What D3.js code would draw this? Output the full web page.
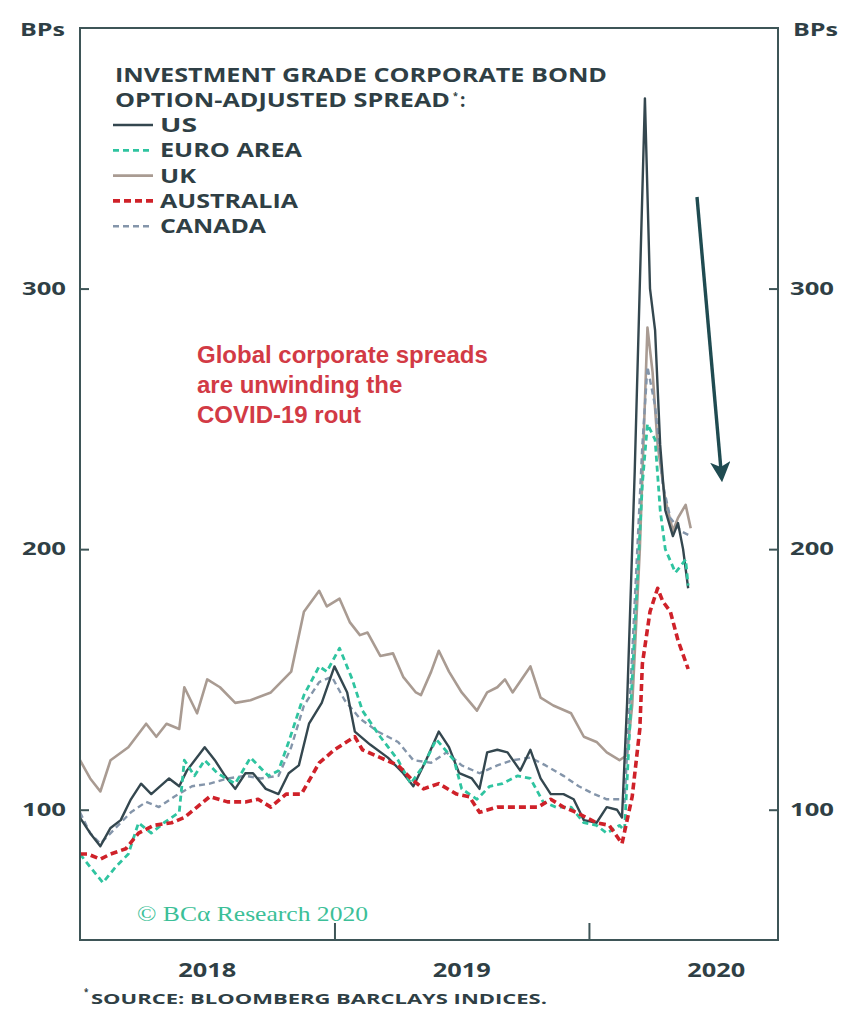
<!DOCTYPE html>
<html lang="en">
  <head>
    <meta charset="utf-8">
    <title>IG corporate bond spreads</title>
    <script src="https://d3js.org/d3.v7.min.js"></script>
    <style>
      body { margin: 0; background: #fff; }
      svg { display: block; }
    </style>
  </head>
  <body>
    <div class="chart"></div>
    <script type="text/javascript">
      // values, time in decimal years
      const ukT = [2018.00,2018.04,2018.08,2018.12,2018.19,2018.26,2018.30,2018.34,2018.39,2018.41,2018.46,2018.50,2018.55,2018.61,2018.67,2018.75,2018.83,2018.88,2018.94,2018.97,2019.02,2019.06,2019.10,2019.13,2019.18,2019.23,2019.27,2019.32,2019.34,2019.38,2019.41,2019.45,2019.50,2019.56,2019.60,2019.64,2019.67,2019.70,2019.77,2019.81,2019.86,2019.93,2019.98,2020.03,2020.07,2020.12,2020.15,2020.17,2020.20,2020.23,2020.25,2020.27,2020.30,2020.33,2020.35,2020.38,2020.40];
      const ukV = [119,112,107,119,124,133,128,133,131,147,137,150,147,141,142,145,153,176,184,178,181,172,167,168,159,160,151,145,144,153,161,153,145,138,145,147,150,145,155,143,140,137,128,126,122,119,121,140,200,285,268,240,219,207,212,217,208];

      const usT = [2018.00,2018.04,2018.08,2018.12,2018.16,2018.20,2018.24,2018.28,2018.35,2018.39,2018.42,2018.49,2018.53,2018.57,2018.61,2018.65,2018.68,2018.73,2018.78,2018.82,2018.86,2018.90,2018.95,2019.00,2019.05,2019.08,2019.14,2019.21,2019.27,2019.31,2019.36,2019.41,2019.45,2019.49,2019.54,2019.57,2019.60,2019.64,2019.68,2019.73,2019.77,2019.81,2019.85,2019.90,2019.94,2019.98,2020.03,2020.07,2020.11,2020.13,2020.15,2020.18,2020.22,2020.24,2020.26,2020.28,2020.30,2020.33,2020.35,2020.37,2020.39];
      const usV = [97,91,86,93,96,104,110,106,112,109,115,124,119,113,108,114,114,108,106,114,117,133,141,155,145,130,125,120,114,109,119,130,124,114,112,108,122,123,122,115,123,112,106,106,104,96,95,101,100,97,141,230,373,300,284,240,215,205,210,200,185];

      const euroT = [2018.00,2018.04,2018.09,2018.14,2018.19,2018.23,2018.28,2018.33,2018.39,2018.41,2018.45,2018.49,2018.54,2018.61,2018.67,2018.74,2018.78,2018.82,2018.88,2018.94,2018.97,2019.02,2019.07,2019.11,2019.18,2019.25,2019.30,2019.35,2019.40,2019.47,2019.50,2019.56,2019.61,2019.66,2019.72,2019.77,2019.82,2019.87,2019.93,2019.98,2020.03,2020.07,2020.12,2020.14,2020.17,2020.21,2020.23,2020.26,2020.28,2020.30,2020.34,2020.38,2020.39];
      const euroV = [83,78,72,78,83,95,91,95,99,119,113,119,114,110,120,113,115,126,144,155,153,162,150,138,128,119,110,117,127,119,108,104,109,110,113,112,103,101,101,95,94,91,94,92,150,225,248,242,215,200,191,196,186];

      const ausT = [2018.00,2018.03,2018.08,2018.12,2018.18,2018.23,2018.29,2018.36,2018.41,2018.46,2018.51,2018.58,2018.65,2018.70,2018.75,2018.81,2018.87,2018.94,2019.00,2019.08,2019.11,2019.18,2019.25,2019.30,2019.35,2019.41,2019.48,2019.53,2019.57,2019.64,2019.72,2019.80,2019.85,2019.90,2019.95,2020.03,2020.08,2020.13,2020.17,2020.20,2020.21,2020.24,2020.27,2020.29,2020.32,2020.35,2020.39];
      const ausV = [83,83,81,83,85,91,94,95,97,101,105,103,103,104,101,106,106,118,123,128,123,120,117,112,108,110,106,105,99,101,101,101,104,101,99,95,94,87,105,131,156,176,185,180,176,165,154];

      const canT = [2018.00,2018.04,2018.08,2018.14,2018.20,2018.26,2018.31,2018.37,2018.44,2018.51,2018.58,2018.65,2018.71,2018.78,2018.83,2018.88,2018.94,2018.99,2019.04,2019.10,2019.17,2019.25,2019.31,2019.38,2019.44,2019.50,2019.57,2019.64,2019.70,2019.77,2019.83,2019.90,2019.96,2020.02,2020.07,2020.12,2020.14,2020.17,2020.21,2020.23,2020.26,2020.29,2020.32,2020.36,2020.40];
      const canV = [99,91,87,93,99,103,101,105,109,110,112,113,112,113,124,140,149,151,142,135,130,126,119,118,122,117,114,117,119,120,117,113,109,106,104,104,103,160,240,270,255,225,212,207,205];

      const yTicks = [100, 200, 300];
      const yearTicks = [2019, 2020];
      const yearLabels = [2018, 2019, 2020];
      const legendTitle = ["INVESTMENT GRADE CORPORATE BOND", "OPTION-ADJUSTED SPREAD"];
      const notes = ["Global corporate spreads", "are unwinding the", "COVID-19 rout"];

      const width = 846, height = 1024;
      const margin = {top: 28, right: 68, bottom: 84, left: 80};
      const ink = "#2f3f45";
      const font = "'Open Sans', 'DejaVu Sans', sans-serif";

      const svg = d3.select(".chart").append("svg")
          .attr("width", width)
          .attr("height", height);

      const xScale = d3.scaleLinear()
          .domain([2018, 2020.743])
          .range([margin.left, width - margin.right]);

      const yScale = d3.scaleLinear()
          .domain([50, 400])
          .range([height - margin.bottom, margin.top]);

      const series = [
        {name: "UK", t: ukT, v: ukV, color: "#a99b92", w: 2.6, dash: null, len: 36},
        {name: "CANADA", t: canT, v: canV, color: "#8495aa", w: 2.4, dash: "6,4", len: 106},
        {name: "US", t: usT, v: usV, color: "#34474f", w: 2.4, dash: null, len: 37},
        {name: "EURO AREA", t: euroT, v: euroV, color: "#2fc4a0", w: 2.8, dash: "6,4", len: 142},
        {name: "AUSTRALIA", t: ausT, v: ausV, color: "#cf2129", w: 3.6, dash: "7,4", len: 138}
      ];

      const line = d3.line()
          .x(d => xScale(d[0]))
          .y(d => yScale(d[1]));

      svg.append("g")
        .selectAll("path")
        .data(series)
        .enter()
        .append("path")
          .attr("fill", "none")
          .attr("stroke", d => d.color)
          .attr("stroke-width", d => d.w)
          .attr("stroke-dasharray", d => d.dash)
          .attr("stroke-linejoin", "round")
          .attr("d", d => line(d.t.map((t, i) => [t, d.v[i]])));

      // frame
      svg.append("rect")
          .attr("x", margin.left)
          .attr("y", margin.top)
          .attr("width", width - margin.left - margin.right)
          .attr("height", height - margin.top - margin.bottom)
          .attr("fill", "none")
          .attr("stroke", "#3e5557")
          .attr("stroke-width", 2);

      // y axes, ticks inward
      const yLeft = d3.axisRight(yScale).tickValues(yTicks).tickSize(9).tickFormat(d3.format("d"));
      const yRight = d3.axisLeft(yScale).tickValues(yTicks).tickSize(9).tickFormat(d3.format("d"));

      const gl = svg.append("g")
          .attr("transform", `translate(${margin.left},0)`)
          .call(yLeft);
      gl.selectAll("text").attr("x", -14).attr("text-anchor", "end");

      const gr = svg.append("g")
          .attr("transform", `translate(${width - margin.right},0)`)
          .call(yRight);
      gr.selectAll("text").attr("x", 12).attr("text-anchor", "start");

      const xAxis = d3.axisTop(xScale).tickValues(yearTicks).tickSize(17).tickFormat("");
      svg.append("g")
          .attr("transform", `translate(0,${height - margin.bottom})`)
          .call(xAxis);

      svg.selectAll(".domain").remove();
      svg.selectAll(".tick line").attr("stroke", "#3e5557").attr("stroke-width", 2);
      svg.selectAll(".tick text")
          .style("font-family", font)
          .style("font-size", "18px")
          .style("font-weight", 700)
          .attr("textLength", 44)
          .attr("lengthAdjust", "spacingAndGlyphs")
          .attr("fill", ink);

      svg.selectAll(".year")
        .data(yearLabels)
        .enter()
        .append("text")
          .attr("class", "year")
          .attr("x", d => xScale(d + 0.5) - 29)
          .attr("y", 977)
          .attr("textLength", 58)
          .attr("lengthAdjust", "spacingAndGlyphs")
          .style("font-family", font)
          .style("font-size", "19px")
          .style("font-weight", 700)
          .attr("fill", ink)
          .text(d => d);

      // BPs labels
      [20, 793].forEach(x => {
        svg.append("text")
            .attr("x", x)
            .attr("y", 36)
            .attr("textLength", 45)
            .attr("lengthAdjust", "spacingAndGlyphs")
            .style("font-family", font)
            .style("font-size", "18px")
            .style("font-weight", 700)
            .attr("fill", ink)
            .text("BPs");
      });

      // legend
      svg.append("text")
          .attr("x", 115).attr("y", 82)
          .attr("textLength", 492).attr("lengthAdjust", "spacingAndGlyphs")
          .style("font-family", font).style("font-size", "19px").style("font-weight", 700)
          .attr("fill", ink)
          .text(legendTitle[0]);

      svg.append("text")
          .attr("x", 115).attr("y", 107)
          .attr("textLength", 335).attr("lengthAdjust", "spacingAndGlyphs")
          .style("font-family", font).style("font-size", "19px").style("font-weight", 700)
          .attr("fill", ink)
          .text(legendTitle[1]);
      svg.append("text")
          .attr("x", 453).attr("y", 99)
          .style("font-family", font).style("font-size", "9px").style("font-weight", 700)
          .attr("fill", ink)
          .text("*");
      svg.append("text")
          .attr("x", 460).attr("y", 107)
          .style("font-family", font).style("font-size", "19px").style("font-weight", 700)
          .attr("fill", ink)
          .text(":");

      const legendOrder = ["US", "EURO AREA", "UK", "AUSTRALIA", "CANADA"];
      const legendItems = legendOrder.map(n => series.find(s => s.name === n));
      const lg = svg.append("g");
      lg.selectAll("line")
        .data(legendItems)
        .enter()
        .append("line")
          .attr("x1", 113).attr("x2", 153)
          .attr("y1", (d, i) => 125 + i * 25.3)
          .attr("y2", (d, i) => 125 + i * 25.3)
          .attr("stroke", d => d.color)
          .attr("stroke-width", d => d.w)
          .attr("stroke-dasharray", d => d.dash);
      lg.selectAll("text")
        .data(legendItems)
        .enter()
        .append("text")
          .attr("x", 160)
          .attr("y", (d, i) => 132 + i * 25.3)
          .attr("textLength", d => d.len)
          .attr("lengthAdjust", "spacingAndGlyphs")
          .style("font-family", font).style("font-size", "19px").style("font-weight", 700)
          .attr("fill", ink)
          .text(d => d.name);

      // annotation
      svg.selectAll(".note")
        .data(notes)
        .enter()
        .append("text")
          .attr("class", "note")
          .attr("x", 197)
          .attr("y", (d, i) => 363 + i * 30)
          .style("font-family", "'Liberation Sans', Arial, sans-serif")
          .style("font-size", "24px")
          .style("font-weight", 700)
          .attr("fill", "#d23a45")
          .text(d => d);

      // arrow
      svg.append("defs").append("marker")
          .attr("id", "head")
          .attr("viewBox", "0 0 10 10")
          .attr("refX", 4).attr("refY", 5)
          .attr("markerWidth", 6).attr("markerHeight", 6)
          .attr("orient", "auto")
        .append("path")
          .attr("d", "M0,0 L10,5 L0,10 L2.5,5 Z")
          .attr("fill", "#1f4b51");
      svg.append("line")
          .attr("x1", 697).attr("y1", 197)
          .attr("x2", 721).attr("y2", 470)
          .attr("stroke", "#1f4b51")
          .attr("stroke-width", 3.4)
          .attr("marker-end", "url(#head)");

      // watermark
      svg.append("text")
          .attr("x", 137).attr("y", 921)
          .attr("textLength", 231)
          .attr("lengthAdjust", "spacingAndGlyphs")
          .style("font-family", "'Liberation Serif', 'DejaVu Serif', serif")
          .style("font-size", "21px")
          .attr("fill", "#3cbf98")
          .text("© BCα Research 2020");

      // source
      svg.append("text")
          .attr("x", 84).attr("y", 995)
          .style("font-family", font).style("font-size", "8px").style("font-weight", 700)
          .attr("fill", ink)
          .text("*");
      svg.append("text")
          .attr("x", 91).attr("y", 1004)
          .attr("textLength", 456).attr("lengthAdjust", "spacingAndGlyphs")
          .style("font-family", font).style("font-size", "15px").style("font-weight", 700)
          .attr("fill", ink)
          .text("SOURCE: BLOOMBERG BARCLAYS INDICES.");
    </script>
  </body>
</html>
